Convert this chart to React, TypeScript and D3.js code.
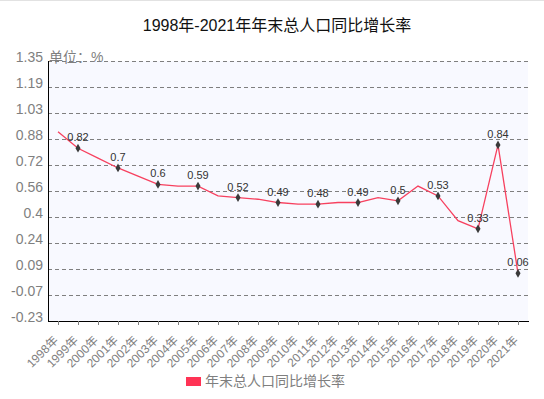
import * as d3 from "d3";

const years = [
  "1998年", "1999年", "2000年", "2001年", "2002年", "2003年", "2004年", "2005年",
  "2006年", "2007年", "2008年", "2009年", "2010年", "2011年", "2012年", "2013年",
  "2014年", "2015年", "2016年", "2017年", "2018年", "2019年", "2020年", "2021年",
];
const rates = [
  0.92, 0.82, 0.76, 0.7, 0.65, 0.6, 0.59, 0.59,
  0.53, 0.52, 0.51, 0.49, 0.48, 0.48, 0.49, 0.49,
  0.52, 0.5, 0.59, 0.53, 0.38, 0.33, 0.84, 0.06,
];
// years that get a marker + value label
const labelled = [
  "1999年", "2001年", "2003年", "2005年", "2007年", "2009年", "2011年",
  "2013年", "2015年", "2017年", "2019年", "2020年", "2021年",
];
const yTicks = [1.35, 1.19, 1.03, 0.88, 0.72, 0.56, 0.4, 0.24, 0.09, -0.07, -0.23];

export default function App() {
  const width = 544;
  const height = 399;
  const marginLeft = 48;
  const marginRight = 16;
  const marginTop = 61;
  const marginBottom = 78;

  // band centers for the years
  const x = d3
    .scalePoint<string>()
    .domain(years)
    .range([marginLeft, width - marginRight])
    .padding(0.5);
  const y = d3.scaleLinear([-0.23, 1.35], [height - marginBottom, marginTop]);
  // ticks are evenly spaced, labels are rounded
  const yTickPos = (i: number) => y(1.35 - (i * 1.58) / 10);

  const line = d3
    .line<number>()
    .x((_, i) => x(years[i])!)
    .y((d) => y(d));

  const marker = d3.symbol(d3.symbolDiamond, 22)();
  const lineColor = "#f7415f";
  const grey = "#7f7f7f";

  return (
    <svg
      width={width}
      height={height}
      style={{ position: "absolute", left: 0, top: 0 }}
      fontFamily="'Liberation Sans', 'Noto Sans CJK SC', sans-serif"
    >
      <rect width={width} height={height} fill="white" />
      <line x1={0} x2={width} y1={0.5} y2={0.5} stroke="#e2e2e2" />
      <text x={277} y={31} textAnchor="middle" fontSize={16} fill="#111">
        1998年-2021年年末总人口同比增长率
      </text>

      <rect
        x={marginLeft}
        y={marginTop}
        width={width - marginLeft - marginRight}
        height={height - marginTop - marginBottom}
        fill="#f8f9ff"
      />

      {yTicks.map((t, i) => (
        <g key={t}>
          {i < yTicks.length - 1 && (
            <line
              x1={marginLeft}
              x2={width - marginRight}
              y1={yTickPos(i) + 0.5}
              y2={yTickPos(i) + 0.5}
              stroke={grey}
              strokeDasharray="4,3"
            />
          )}
          <text x={43} y={yTickPos(i) + 1} textAnchor="end" fontSize={14} fill={grey}>
            {t}
          </text>
        </g>
      ))}
      <text x={49} y={62} fontSize={14} fill={grey}>
        单位：%
      </text>

      <line x1={marginLeft + 0.5} x2={marginLeft + 0.5} y1={marginTop} y2={height - marginBottom} stroke="#000" />
      <line
        x1={marginLeft}
        x2={width - marginRight + 1}
        y1={height - marginBottom + 0.5}
        y2={height - marginBottom + 0.5}
        stroke="#000"
      />

      {years.map((yr) => {
        const px = x(yr)!;
        return (
          <g key={yr}>
            <line x1={px + 0.5} x2={px + 0.5} y1={height - marginBottom} y2={height - marginBottom + 4} stroke={grey} />
            <text
              transform={`translate(${px + 1},${height - marginBottom + 20}) rotate(-45)`}
              textAnchor="end"
              fontSize={12}
              fill={grey}
            >
              {yr}
            </text>
          </g>
        );
      })}

      <path d={line(rates) ?? ""} fill="none" stroke={lineColor} strokeWidth={1.3} />

      {rates.map((v, i) =>
        labelled.includes(years[i]) ? (
          <g key={i}>
            <path d={marker} transform={`translate(${x(years[i])},${y(v)})`} fill="#3a3a3a" />
            <text x={x(years[i])} y={y(v) - 7} textAnchor="middle" fontSize={11} fill="#333">
              {v}
            </text>
          </g>
        ) : null
      )}

      <rect x={186} y={377} width={15} height={9} fill="#ff3355" />
      <text x={205} y={386} fontSize={14} fill={grey}>
        年末总人口同比增长率
      </text>
    </svg>
  );
}
